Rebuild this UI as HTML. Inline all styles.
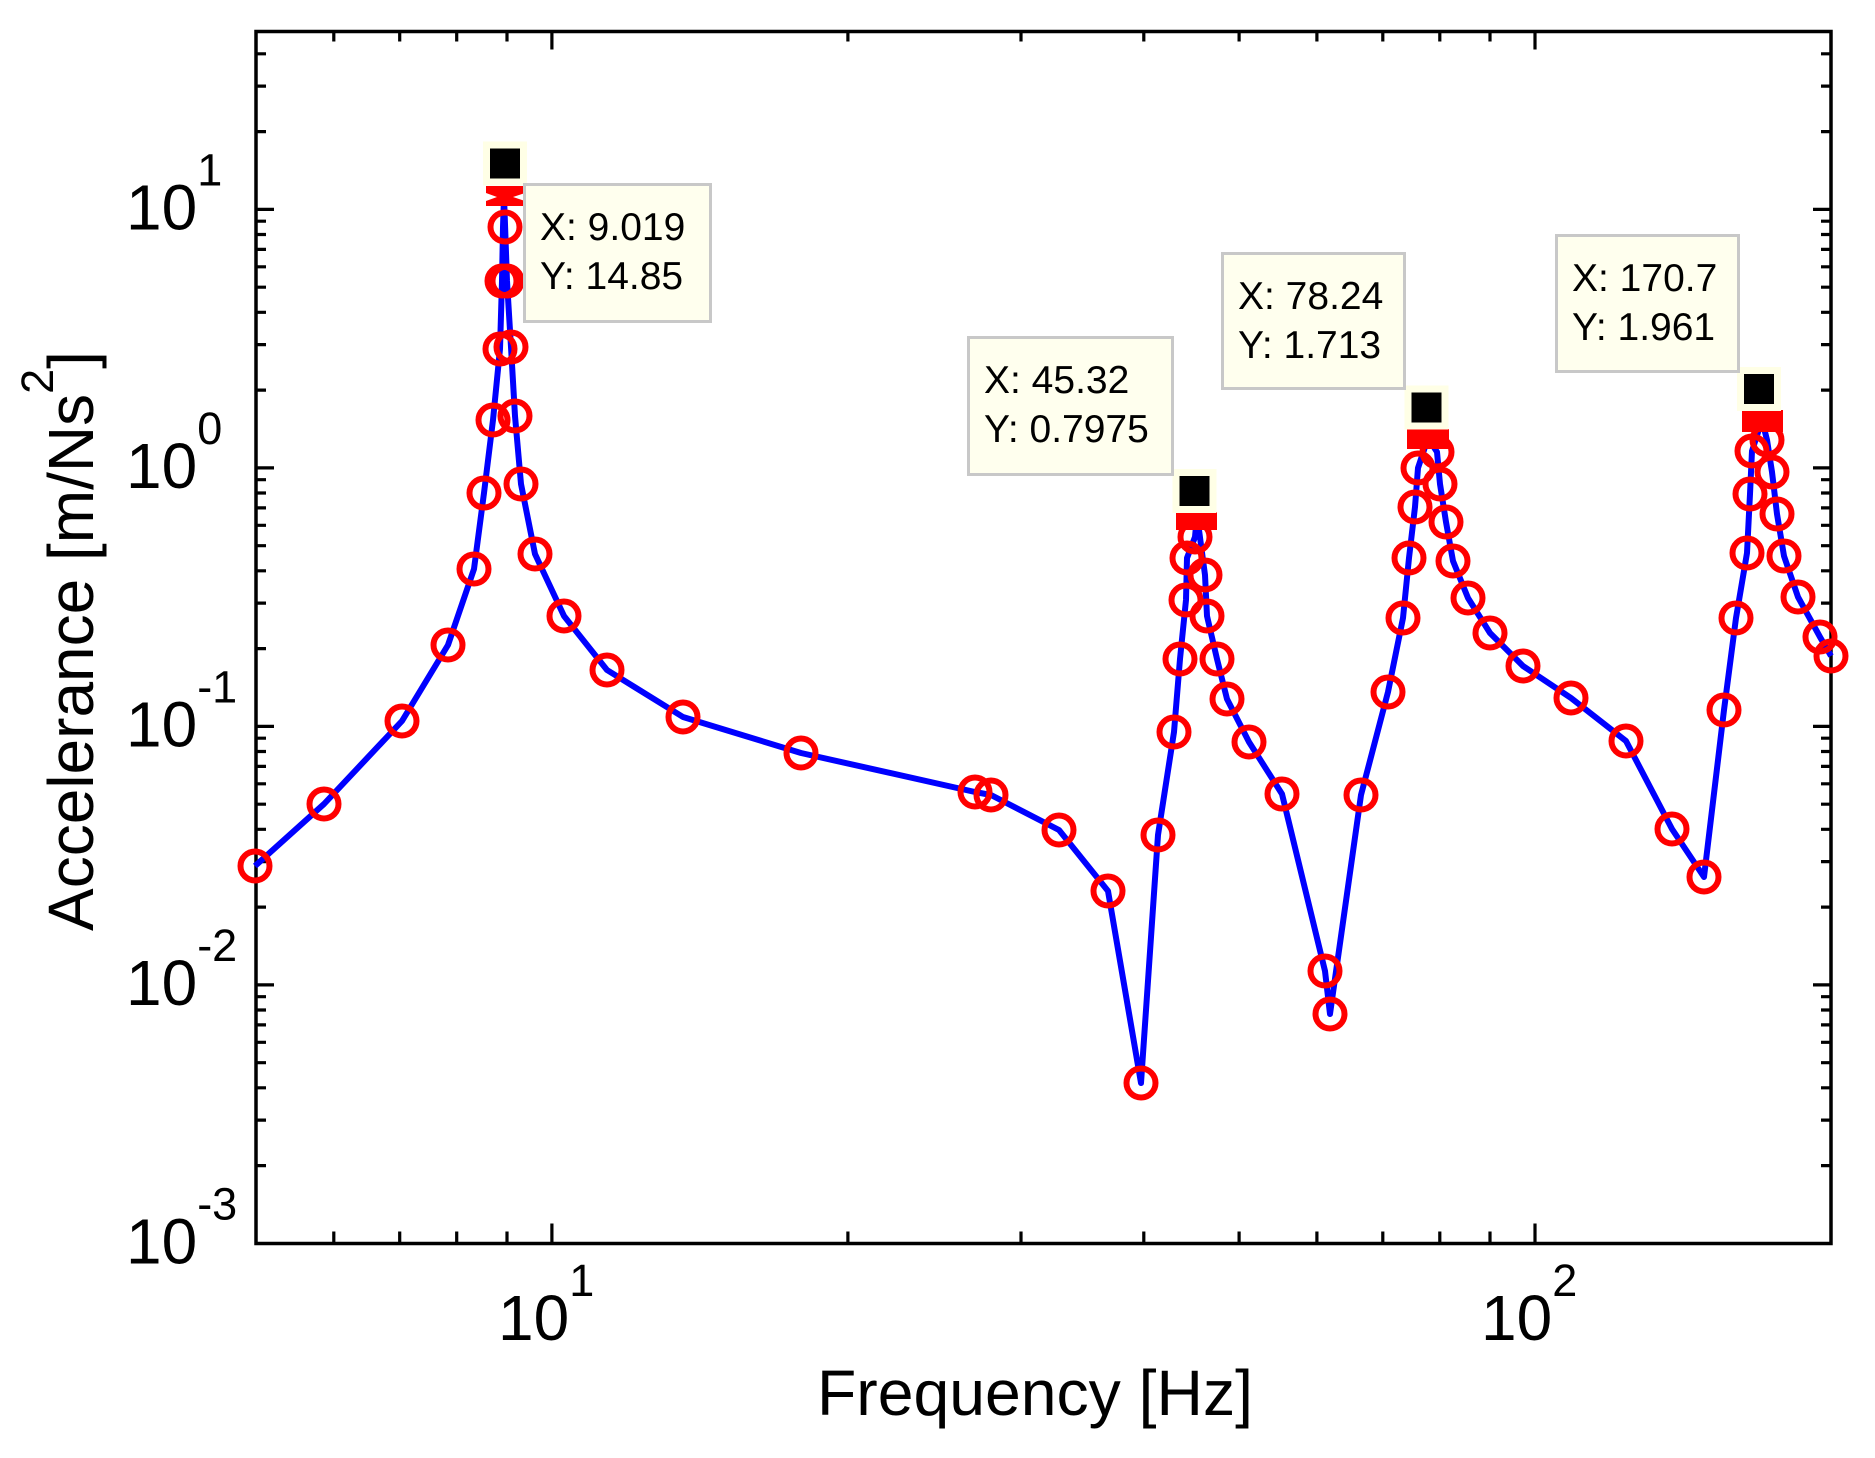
<!DOCTYPE html>
<html>
<head>
<meta charset="utf-8">
<style>
  html,body{margin:0;padding:0;background:#ffffff;}
  svg{display:block;}
</style>
</head>
<body>
<svg width="1875" height="1458" viewBox="0 0 1875 1458" xmlns="http://www.w3.org/2000/svg" font-family="'Liberation Sans', Arial, sans-serif">
  <rect x="0" y="0" width="1875" height="1458" fill="#ffffff"/>

  <g stroke="#000" stroke-width="3.2" fill="none">
    <path d="M256 209.4h18M256 467.9h18M256 726.4h18M256 984.9h18"/>
    <path d="M1831 209.4h-18M1831 467.9h-18M1831 726.4h-18M1831 984.9h-18"/>
    <path d="M256 131.6h10M256 86.1h10M256 53.8h10 M256 390.1h10M256 344.6h10M256 312.3h10M256 287.2h10M256 266.8h10M256 249.4h10M256 234.5h10M256 221.2h10 M256 648.6h10M256 603.1h10M256 570.8h10M256 545.7h10M256 525.3h10M256 507.9h10M256 493.0h10M256 479.7h10 M256 907.1h10M256 861.6h10M256 829.3h10M256 804.2h10M256 783.8h10M256 766.4h10M256 751.5h10M256 738.2h10 M256 1165.6h10M256 1120.1h10M256 1087.8h10M256 1062.7h10M256 1042.3h10M256 1024.9h10M256 1010.0h10M256 996.7h10"/>
    <path d="M1831 131.6h-10M1831 86.1h-10M1831 53.8h-10 M1831 390.1h-10M1831 344.6h-10M1831 312.3h-10M1831 287.2h-10M1831 266.8h-10M1831 249.4h-10M1831 234.5h-10M1831 221.2h-10 M1831 648.6h-10M1831 603.1h-10M1831 570.8h-10M1831 545.7h-10M1831 525.3h-10M1831 507.9h-10M1831 493.0h-10M1831 479.7h-10 M1831 907.1h-10M1831 861.6h-10M1831 829.3h-10M1831 804.2h-10M1831 783.8h-10M1831 766.4h-10M1831 751.5h-10M1831 738.2h-10 M1831 1165.6h-10M1831 1120.1h-10M1831 1087.8h-10M1831 1062.7h-10M1831 1042.3h-10M1831 1024.9h-10M1831 1010.0h-10M1831 996.7h-10"/>
    <path d="M551.9 1243.5v-20M1535 1243.5v-20 M333.8 1243.5v-12M399.7 1243.5v-12M456.7 1243.5v-12M507 1243.5v-12 M847.9 1243.5v-12M1021 1243.5v-12M1143.8 1243.5v-12M1239.1 1243.5v-12M1316.9 1243.5v-12M1382.8 1243.5v-12M1439.8 1243.5v-12M1490 1243.5v-12"/>
    <path d="M551.9 31.5v18M1535 31.5v18 M333.8 31.5v10M399.7 31.5v10M456.7 31.5v10M507 31.5v10 M847.9 31.5v10M1021 31.5v10M1143.8 31.5v10M1239.1 31.5v10M1316.9 31.5v10M1382.8 31.5v10M1439.8 31.5v10M1490 31.5v10"/>
  </g>

  <rect x="256" y="31.5" width="1575" height="1212" fill="none" stroke="#000" stroke-width="3.5"/>

  <g font-size="64" fill="#000">
    <text x="126" y="229.4">10<tspan font-size="45" dy="-44">1</tspan></text>
    <text x="126" y="487.9">10<tspan font-size="45" dy="-44">0</tspan></text>
    <text x="126" y="746.4">10<tspan font-size="45" dy="-44">-1</tspan></text>
    <text x="126" y="1004.9">10<tspan font-size="45" dy="-44">-2</tspan></text>
    <text x="126" y="1263.4">10<tspan font-size="45" dy="-44">-3</tspan></text>
  </g>

  <g font-size="64" fill="#000">
    <text x="498" y="1340">10<tspan font-size="45" dy="-44">1</tspan></text>
    <text x="1481" y="1340">10<tspan font-size="45" dy="-44">2</tspan></text>
  </g>

  <text x="817" y="1415" font-size="64" fill="#000" textLength="436" lengthAdjust="spacingAndGlyphs">Frequency [Hz]</text>
  <text transform="translate(93,641) rotate(-90)" x="0" y="0" text-anchor="middle" font-size="64" fill="#000">Accelerance [m/Ns<tspan font-size="45" dy="-40">2</tspan><tspan dy="40">]</tspan></text>

  <polyline fill="none" stroke="#0000ff" stroke-width="6" stroke-linejoin="round" points="255,866 324,804 402,721 448,645 474,569 484,493 493,420 500,349 502,281 503,227 504,196 507,281 511,347 515,416 521,484 535,554 564,616 607,670 683,717 801,753 975,792 991,795 1059,830 1108,891 1141,1083 1158,835 1174,732 1180,659 1186,600 1187,558 1195,537 1197,515 1205,575 1207,616 1217,659 1227,699 1249,742 1282,794 1325,971 1330,1014 1361,795 1388,692 1403,618 1409,558 1415,507 1418,468 1428,438 1437,452 1440,484 1446,522 1453,561 1468,598 1490,633 1523,666 1571,698 1626,741 1672,829 1704,877 1724,710 1736,618 1747,553 1750,494 1752,451 1762,420 1767,440 1772,472 1777,514 1784,556 1798,597 1820,637 1831,656"/>

  <g fill="none" stroke="#ff0000" stroke-width="6">
    <circle cx="255" cy="866" r="14.5"/>
    <circle cx="324" cy="804" r="14.5"/>
    <circle cx="402" cy="721" r="14.5"/>
    <circle cx="448" cy="645" r="14.5"/>
    <circle cx="474" cy="569" r="14.5"/>
    <circle cx="484" cy="493" r="14.5"/>
    <circle cx="493" cy="420" r="14.5"/>
    <circle cx="500" cy="349" r="14.5"/>
    <circle cx="502" cy="281" r="14.5"/>
    <circle cx="505" cy="227" r="14.5"/>
    <circle cx="507" cy="281" r="14.5"/>
    <circle cx="511" cy="347" r="14.5"/>
    <circle cx="515" cy="416" r="14.5"/>
    <circle cx="521" cy="484" r="14.5"/>
    <circle cx="535" cy="554" r="14.5"/>
    <circle cx="564" cy="616" r="14.5"/>
    <circle cx="607" cy="670" r="14.5"/>
    <circle cx="683" cy="717" r="14.5"/>
    <circle cx="801" cy="753" r="14.5"/>
    <circle cx="975" cy="792" r="14.5"/>
    <circle cx="991" cy="795" r="14.5"/>
    <circle cx="1059" cy="830" r="14.5"/>
    <circle cx="1108" cy="891" r="14.5"/>
    <circle cx="1141" cy="1083" r="14.5"/>
    <circle cx="1158" cy="835" r="14.5"/>
    <circle cx="1174" cy="732" r="14.5"/>
    <circle cx="1180" cy="659" r="14.5"/>
    <circle cx="1186" cy="600" r="14.5"/>
    <circle cx="1187" cy="558" r="14.5"/>
    <circle cx="1195" cy="537" r="14.5"/>
    <circle cx="1205" cy="575" r="14.5"/>
    <circle cx="1207" cy="616" r="14.5"/>
    <circle cx="1217" cy="659" r="14.5"/>
    <circle cx="1227" cy="699" r="14.5"/>
    <circle cx="1249" cy="742" r="14.5"/>
    <circle cx="1282" cy="794" r="14.5"/>
    <circle cx="1325" cy="971" r="14.5"/>
    <circle cx="1330" cy="1014" r="14.5"/>
    <circle cx="1361" cy="795" r="14.5"/>
    <circle cx="1388" cy="692" r="14.5"/>
    <circle cx="1403" cy="618" r="14.5"/>
    <circle cx="1409" cy="558" r="14.5"/>
    <circle cx="1415" cy="507" r="14.5"/>
    <circle cx="1418" cy="468" r="14.5"/>
    <circle cx="1437" cy="452" r="14.5"/>
    <circle cx="1440" cy="484" r="14.5"/>
    <circle cx="1446" cy="522" r="14.5"/>
    <circle cx="1453" cy="561" r="14.5"/>
    <circle cx="1468" cy="598" r="14.5"/>
    <circle cx="1490" cy="633" r="14.5"/>
    <circle cx="1523" cy="666" r="14.5"/>
    <circle cx="1571" cy="698" r="14.5"/>
    <circle cx="1626" cy="741" r="14.5"/>
    <circle cx="1672" cy="829" r="14.5"/>
    <circle cx="1704" cy="877" r="14.5"/>
    <circle cx="1724" cy="710" r="14.5"/>
    <circle cx="1736" cy="618" r="14.5"/>
    <circle cx="1747" cy="553" r="14.5"/>
    <circle cx="1750" cy="494" r="14.5"/>
    <circle cx="1752" cy="451" r="14.5"/>
    <circle cx="1767" cy="440" r="14.5"/>
    <circle cx="1772" cy="472" r="14.5"/>
    <circle cx="1777" cy="514" r="14.5"/>
    <circle cx="1784" cy="556" r="14.5"/>
    <circle cx="1798" cy="597" r="14.5"/>
    <circle cx="1820" cy="637" r="14.5"/>
    <circle cx="1831" cy="656" r="14.5"/>
  </g>

  <g fill="#ff0000">
    <polygon points="486,186 525,186 525,193 513,197 525,201 525,206 486,206 486,201 497,197 486,193"/>
    <rect x="1176" y="512" width="41" height="18"/>
    <rect x="1407" y="429" width="42" height="20"/>
    <rect x="1742" y="410" width="41" height="22"/>
  </g>

  <g>
    <rect x="483" y="141.5" width="44" height="44" fill="#ffffe6"/>
    <rect x="490" y="148.5" width="30" height="30" fill="#000"/>
    <rect x="1172.5" y="469" width="44" height="44" fill="#ffffe6"/>
    <rect x="1179.5" y="476" width="30" height="30" fill="#000"/>
    <rect x="1404.5" y="385.5" width="44" height="44" fill="#ffffe6"/>
    <rect x="1411.5" y="392.5" width="30" height="30" fill="#000"/>
    <rect x="1737" y="367" width="44" height="44" fill="#ffffe6"/>
    <rect x="1744" y="374" width="30" height="30" fill="#000"/>
  </g>

  <g font-size="39" fill="#000">
    <rect x="524.5" y="184.5" width="186" height="137" fill="#ffffee" stroke="#c8c8c8" stroke-width="3"/>
    <text x="540" y="240">X: 9.019</text>
    <text x="540" y="289">Y: 14.85</text>
    <rect x="968.5" y="337.5" width="204" height="137" fill="#ffffee" stroke="#c8c8c8" stroke-width="3"/>
    <text x="984" y="393">X: 45.32</text>
    <text x="984" y="442">Y: 0.7975</text>
    <rect x="1222.5" y="253.5" width="182" height="135" fill="#ffffee" stroke="#c8c8c8" stroke-width="3"/>
    <text x="1238" y="309">X: 78.24</text>
    <text x="1238" y="358">Y: 1.713</text>
    <rect x="1556.5" y="235.5" width="182" height="136" fill="#ffffee" stroke="#c8c8c8" stroke-width="3"/>
    <text x="1572" y="291">X: 170.7</text>
    <text x="1572" y="340">Y: 1.961</text>
  </g>
</svg>
</body>
</html>
